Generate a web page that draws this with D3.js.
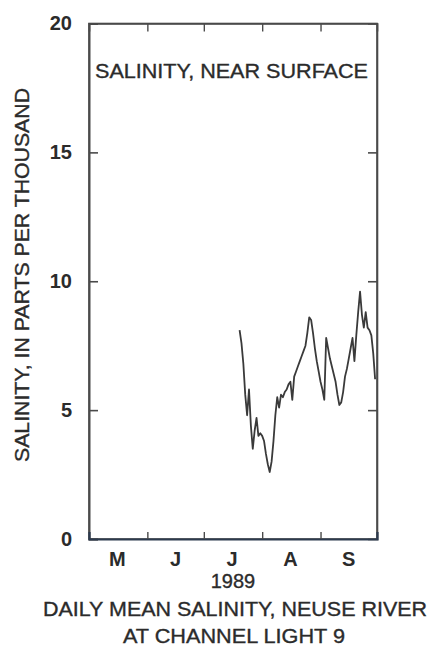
<!DOCTYPE html>
<html>
<head>
<meta charset="utf-8">
<script src="https://cdn.jsdelivr.net/npm/d3@7/dist/d3.min.js"></script>
<style>
  html, body { margin: 0; padding: 0; background: #ffffff; }
  svg { display: block; }
  text { font-family: "Liberation Sans", Arial, sans-serif; fill: #2b2b2b; }
  .heavy { stroke: #2b2b2b; stroke-width: 0.35px; }
</style>
</head>
<body>
<svg id="chart" width="430" height="646"></svg>
<script>
// ---- data ----
const monthLabels = ["M", "J", "J", "A", "S"];
const yTickValues = [0, 5, 10, 15, 20];
const dates = [
  "1989-07-20","1989-07-21","1989-07-22","1989-07-23","1989-07-24","1989-07-25","1989-07-26","1989-07-27","1989-07-28","1989-07-29","1989-07-30","1989-07-31",
  "1989-08-01","1989-08-02","1989-08-03","1989-08-04","1989-08-05","1989-08-06","1989-08-07","1989-08-08","1989-08-09","1989-08-10",
  "1989-08-11","1989-08-12","1989-08-13","1989-08-14","1989-08-15","1989-08-16","1989-08-17","1989-08-18","1989-08-19","1989-08-20",
  "1989-08-21","1989-08-22","1989-08-23","1989-08-24","1989-08-25","1989-08-26","1989-08-27","1989-08-28","1989-08-29","1989-08-30","1989-08-31",
  "1989-09-01","1989-09-02","1989-09-03","1989-09-04","1989-09-05","1989-09-06","1989-09-07","1989-09-08","1989-09-09","1989-09-10",
  "1989-09-11","1989-09-12","1989-09-13","1989-09-14","1989-09-15","1989-09-16","1989-09-17","1989-09-18","1989-09-19","1989-09-20",
  "1989-09-21","1989-09-22","1989-09-23","1989-09-24","1989-09-25","1989-09-26","1989-09-27","1989-09-28","1989-09-29","1989-09-30"
];
const salinity = [
  8.1,7.6,6.8,5.6,4.8,5.8,4.4,3.5,4.2,4.7,4.0,4.1,
  4.0,3.8,3.3,2.9,2.6,3.0,3.8,4.8,5.5,5.1,
  5.6,5.5,5.7,5.8,6.0,6.1,5.4,6.3,6.5,6.7,
  6.9,7.1,7.3,7.5,8.0,8.6,8.5,8.0,7.4,6.9,6.5,
  6.1,5.8,5.4,7.8,7.4,7.0,6.7,6.4,6.1,5.6,
  5.2,5.3,5.7,6.3,6.6,7.0,7.4,7.8,6.9,7.9,
  8.8,9.6,8.7,8.2,8.8,8.2,8.1,7.9,7.2,6.2
];
const title = "SALINITY, NEAR SURFACE";
const yLabel = "SALINITY, IN PARTS PER THOUSAND";
const yearLabel = "1989";
const caption1 = "DAILY MEAN SALINITY, NEUSE RIVER";
const caption2 = "AT CHANNEL LIGHT 9";

// ---- layout ----
const L = 89, R = 377, T = 23.5, B = 539;
const parse = d3.timeParse("%Y-%m-%d");
const svg = d3.select("#chart");

const x = d3.scaleTime()
  .domain([parse("1989-05-01"), parse("1989-10-01")])
  .range([L, R]);
const y = d3.scaleLinear().domain([0, 20]).range([B, T]);

const monthStarts = d3.timeMonth.range(parse("1989-06-01"), parse("1989-10-01"));
const monthMids = d3.timeMonth.range(parse("1989-05-01"), parse("1989-10-01"))
  .map(d => new Date(d.getFullYear(), d.getMonth(), 16));

const axisColor = "#4a4a4a";

// frame
svg.append("rect")
  .attr("x", L).attr("y", T).attr("width", R - L).attr("height", B - T)
  .attr("fill", "none").attr("stroke", axisColor).attr("stroke-width", 1.6);

// left axis
const gl = svg.append("g").attr("transform", `translate(${L},0)`)
  .call(d3.axisLeft(y).tickValues(yTickValues).tickSize(-9).tickPadding(17).tickFormat(d3.format("d")));
gl.select(".domain").attr("stroke", axisColor).attr("stroke-width", 2);
gl.selectAll(".tick line").attr("stroke", axisColor).attr("stroke-width", 1.6);
gl.selectAll(".tick text").style("font-size", "20px").style("font-weight", "bold")
  .style("font-family", "Liberation Sans, Arial, sans-serif").attr("fill", "#2b2b2b");

// right axis (ticks only)
const gr = svg.append("g").attr("transform", `translate(${R},0)`)
  .call(d3.axisRight(y).tickValues([5, 10, 15]).tickSize(-9).tickFormat(""));
gr.select(".domain").attr("stroke", axisColor).attr("stroke-width", 1.6);
gr.selectAll(".tick line").attr("stroke", axisColor).attr("stroke-width", 1.6);

// bottom axis (month boundary ticks)
const gb = svg.append("g").attr("transform", `translate(0,${B})`)
  .call(d3.axisBottom(x).tickValues(monthStarts).tickSize(-7).tickFormat(""));
gb.select(".domain").attr("stroke", "#2c3a4e").attr("stroke-width", 2.2);
gb.selectAll(".tick line").attr("stroke", axisColor).attr("stroke-width", 1.4);

// top axis
const gt = svg.append("g").attr("transform", `translate(0,${T})`)
  .call(d3.axisTop(x).tickValues(monthStarts).tickSize(-8).tickFormat(""));
gt.select(".domain").attr("stroke", axisColor).attr("stroke-width", 1.6);
gt.selectAll(".tick line").attr("stroke", axisColor).attr("stroke-width", 1.4);

// month labels
svg.append("g").selectAll("text").data(monthMids).join("text")
  .attr("x", d => x(d)).attr("y", 565.5)
  .attr("text-anchor", "middle").style("font-size", "20px").style("font-weight", "bold")
  .text((d, i) => monthLabels[i]);

// year label
svg.append("text").attr("class", "heavy").attr("x", 233).attr("y", 588)
  .attr("text-anchor", "middle").style("font-size", "20px")
  .text(yearLabel);

// captions
svg.append("text").attr("class", "heavy").attr("x", 235).attr("y", 616)
  .attr("text-anchor", "middle").style("font-size", "20px")
  .attr("textLength", 384).attr("lengthAdjust", "spacingAndGlyphs")
  .text(caption1);
svg.append("text").attr("class", "heavy").attr("x", 234).attr("y", 643)
  .attr("text-anchor", "middle").style("font-size", "20px")
  .attr("textLength", 222).attr("lengthAdjust", "spacingAndGlyphs")
  .text(caption2);

// title inside plot
svg.append("text").attr("class", "heavy").attr("x", 95).attr("y", 77.5)
  .style("font-size", "20px")
  .attr("textLength", 273).attr("lengthAdjust", "spacingAndGlyphs")
  .text(title);

// y axis label
svg.append("text").attr("class", "heavy")
  .attr("transform", "translate(29,275) rotate(-90)")
  .attr("text-anchor", "middle").style("font-size", "20px")
  .attr("textLength", 374).attr("lengthAdjust", "spacingAndGlyphs")
  .text(yLabel);

// salinity line
const data = dates.map((d, i) => ({ date: parse(d), value: salinity[i] }));
svg.append("path")
  .datum(data)
  .attr("fill", "none")
  .attr("stroke", "#3a3a3a")
  .attr("stroke-width", 1.8)
  .attr("stroke-linejoin", "round")
  .attr("d", d3.line().x(d => x(d.date)).y(d => y(d.value)));
</script>
</body>
</html>
